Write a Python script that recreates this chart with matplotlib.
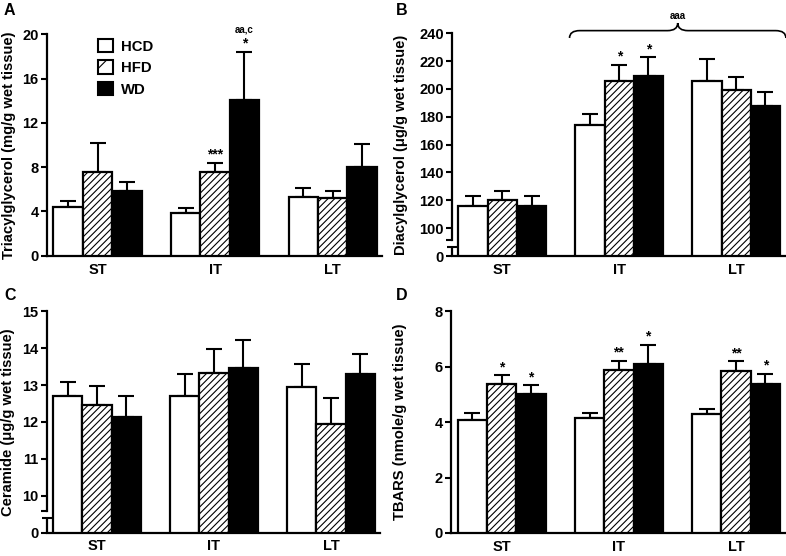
import numpy as np
import matplotlib
matplotlib.use("Agg")
import matplotlib.pyplot as plt
from matplotlib.patches import Patch, PathPatch
from matplotlib.path import Path
from matplotlib.lines import TICKLEFT

plt.rcParams['font.family'] = ['Liberation Sans', 'DejaVu Sans']
plt.rcParams['font.weight'] = 'bold'
plt.rcParams['hatch.linewidth'] = 0.8

groups = ['ST', 'IT', 'LT']
diets = ['HCD', 'HFD', 'WD']

# Panel A: Triacylglycerol (rows = diet, cols = group)
tag_mean = [[4.43, 3.83, 5.30], [7.56, 7.53, 5.24], [5.84, 14.04, 8.04]]
tag_sem = [[0.51, 0.45, 0.78], [2.59, 0.87, 0.60], [0.85, 4.39, 2.05]]
# Panel B: Diacylglycerol
dag_mean = [[115.8, 173.8, 205.7], [120.0, 205.7, 199.2], [115.8, 209.3, 187.7]]
dag_sem = [[7.0, 8.1, 15.8], [6.4, 11.5, 9.3], [7.0, 13.4, 10.0]]
# Panel C: Ceramide
cer_mean = [[12.71, 12.71, 12.95], [12.47, 13.32, 11.94], [12.12, 13.47, 13.29]]
cer_sem = [[0.36, 0.59, 0.61], [0.50, 0.66, 0.71], [0.59, 0.76, 0.56]]
# Panel D: TBARS
tbars_mean = [[4.09, 4.16, 4.28], [5.39, 5.87, 5.84], [5.03, 6.11, 5.38]]
tbars_sem = [[0.24, 0.18, 0.21], [0.30, 0.35, 0.36], [0.30, 0.69, 0.36]]

# significance marks: (group index, diet index, text)
tag_marks = [(1, 1, '***'), (1, 2, '*')]
dag_marks = [(1, 1, '*'), (1, 2, '*')]
tbars_marks = [(0, 1, '*'), (0, 2, '*'), (1, 1, '**'), (1, 2, '*'), (2, 1, '**'), (2, 2, '*')]

facecolors = ['white', 'white', 'black']
hatches = [None, '/////', None]

W, H = 786, 556
fig = plt.figure(figsize=(W / 100, H / 100), dpi=100)


def px_axes(l, r, b, t):
    return fig.add_axes([l / W, 1 - b / H, (r - l) / W, (b - t) / H])


axA = px_axes(47, 381.7, 255.7, 34.3)
axB = px_axes(452, 785, 256, 33.3)
axC = px_axes(46.5, 380, 532.5, 311.3)
axD = px_axes(451.3, 785, 533, 311.3)

group_pos = np.arange(len(groups)) * 4.0


def draw_panel(ax, mean, sem, ylabel, ymax, yticks, marks, labelx):
    for j in range(3):
        x = group_pos + (j - 1)
        ax.bar(x, mean[j], width=1.0, color=facecolors[j], edgecolor='black',
               linewidth=1.6, hatch=hatches[j], zorder=3)
        ax.errorbar(x, mean[j], yerr=[np.zeros(3), sem[j]], fmt='none',
                    ecolor='black', elinewidth=1.5, capsize=5.5, capthick=1.5, zorder=2)
    for g, j, txt in marks:
        ax.annotate(txt, xy=(group_pos[g] + j - 1, mean[j][g] + sem[j][g]),
                    xytext=(0, 3), textcoords='offset points', ha='center',
                    va='baseline', fontsize=10, fontweight='bold')
    ax.set_xlim(-1.72, 9.67)
    ax.set_ylim(0, ymax)
    ax.set_yticks(yticks)
    ax.set_xticks(group_pos)
    ax.set_xticklabels(groups)
    ax.tick_params(axis='x', length=0, pad=5, labelsize=10.5)
    ax.tick_params(axis='y', direction='out', length=4, width=1.5, pad=2, labelsize=10.5)
    for lab in ax.get_xticklabels() + ax.get_yticklabels():
        lab.set_fontweight('bold')
    ax.spines['top'].set_visible(False)
    ax.spines['right'].set_visible(False)
    ax.spines['left'].set_linewidth(1.6)
    ax.spines['bottom'].set_linewidth(1.6)
    ax.set_ylabel(ylabel, fontsize=10.6, fontweight='bold')
    ax.yaxis.set_label_coords(labelx, 0.5)


def make_broken(ax, brk, step):
    def fwd(y):
        y = np.asarray(y, dtype=float)
        return np.where(y < brk, brk - step + y * step / brk, y)

    def inv(t):
        t = np.asarray(t, dtype=float)
        return np.where(t < brk, (t - (brk - step)) * brk / step, t)

    ax.set_yscale('function', functions=(fwd, inv))


def finish_break(ax, hi_bot, lo_top, ymax):
    ax.spines['left'].set_bounds(hi_bot, ymax)
    tr = ax.get_yaxis_transform()
    ax.plot([0, 0], [0, lo_top], color='black', lw=1.6, transform=tr, clip_on=False,
            solid_capstyle='butt')
    ax.plot([0], [hi_bot], marker=TICKLEFT, ms=4, mew=1.5, color='black',
            transform=tr, clip_on=False)
    ax.plot([0], [lo_top], marker='_', ms=7, mew=1.5, color='black',
            transform=tr, clip_on=False)


# Panel A
draw_panel(axA, tag_mean, tag_sem, 'Triacylglycerol (mg/g wet tissue)', 20,
           [0, 4, 8, 12, 16, 20], tag_marks, -0.094)
axA.annotate('aa,c', xy=(group_pos[1] + 1, tag_mean[2][1] + tag_sem[2][1]),
             xytext=(0, 14), textcoords='offset points', ha='center', va='baseline',
             fontsize=7, fontweight='bold')
handles = [Patch(facecolor='white', edgecolor='black', linewidth=1.5),
           Patch(facecolor='white', edgecolor='black', linewidth=1.5, hatch='/'),
           Patch(facecolor='black', edgecolor='black', linewidth=1.5)]
axA.legend(handles, diets, loc='upper left', bbox_to_anchor=(0.153, 0.979),
           frameon=False, borderpad=0, borderaxespad=0, handlelength=1.0,
           handleheight=1.0, handletextpad=0.5, labelspacing=0.45,
           prop={'size': 10.7, 'weight': 'bold'})

# Panel B (broken axis)
make_broken(axB, 100, 20)
draw_panel(axB, dag_mean, dag_sem, 'Diacylglycerol (\u03bcg/g wet tissue)', 240,
           [0, 100, 120, 140, 160, 180, 200, 220, 240], dag_marks, -0.133)
finish_break(axB, 58.5, 32, 240)
# brace over IT and LT
x0 = group_pos[1] - 1.5 - 0.2
x1 = group_pos[2] + 1.5 + 0.2
xm = (x0 + x1) / 2
dx = 0.35
ye, ym, yt = 0.979, 1.012, 1.046
verts = [(x0, ye), (x0, ym), (x0 + dx, ym), (xm - dx, ym), (xm, ym), (xm, yt),
         (xm, ym), (xm + dx, ym), (x1 - dx, ym), (x1, ym), (x1, ye)]
codes = [Path.MOVETO, Path.CURVE3, Path.CURVE3, Path.LINETO, Path.CURVE3, Path.CURVE3,
         Path.CURVE3, Path.CURVE3, Path.LINETO, Path.CURVE3, Path.CURVE3]
brace = PathPatch(Path(verts, codes), fill=False, lw=1.2, edgecolor='black',
                  transform=axB.get_xaxis_transform(), clip_on=False)
axB.add_patch(brace)
axB.text(xm, 1.062, 'aaa', transform=axB.get_xaxis_transform(), ha='center',
         va='baseline', fontsize=7, fontweight='bold')

# Panel C (broken axis)
make_broken(axC, 10, 1)
draw_panel(axC, cer_mean, cer_sem, 'Ceramide (\u03bcg/g wet tissue)', 15,
           [0, 10, 11, 12, 13, 14, 15], [], -0.094)
finish_break(axC, 5.73, 3.82, 15)

# Panel D
draw_panel(axD, tbars_mean, tbars_sem, 'TBARS (nmole/g wet tissue)', 8,
           [0, 2, 4, 6, 8], tbars_marks, -0.132)

# panel letters
for lbl, xp, yp in [('A', 4, 3), ('B', 396, 3), ('C', 4, 288), ('D', 396, 288)]:
    fig.text(xp / W, 1 - yp / H, lbl, ha='left', va='top', fontsize=11.5, fontweight='bold')

fig.savefig('out.png', dpi=100)
